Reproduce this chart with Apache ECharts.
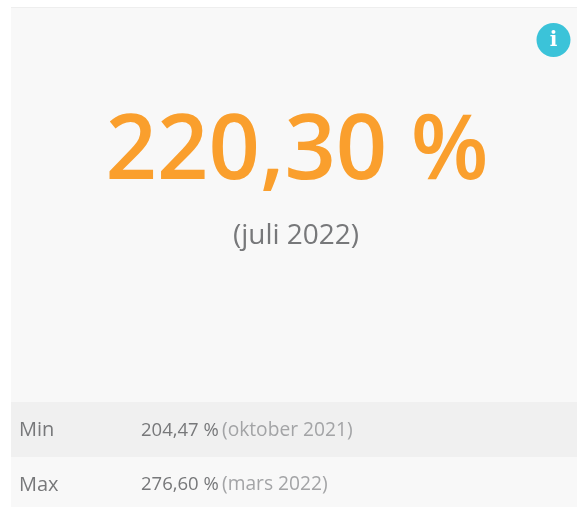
<!DOCTYPE html>
<html lang="sv">
<head>
    <meta charset="UTF-8">
    <title>Nyckeltal</title>
    <script src="https://cdn.jsdelivr.net/npm/echarts@6/dist/echarts.min.js"></script>
    <style>
        html, body { margin: 0; padding: 0; background: #fff; }
        #main { width: 577px; height: 507px; }
    </style>
</head>
<body>
<div id="main"></div>
<script>
    // värden från bilden
    var currentValue = '220,30 %';
    var currentPeriod = '(juli 2022)';
    var rowLabels = ['Min', 'Max'];
    var rowValues = ['204,47 %', '276,60 %'];
    var rowPeriods = ['(oktober 2021)', '(mars 2022)'];

    var font = '"Open Sans", sans-serif';
    var rowTops = [402, 457];
    var rowHeights = [55, 50];
    var rowTextY = [430.5, 485];
    var rowFills = ['#f0f0f0', '#f8f8f8'];

    var elements = [
        // panelens bakgrund
        { type: 'rect', shape: { x: 11, y: 8, width: 566, height: 499 }, style: { fill: '#f8f8f8' } },
        { type: 'rect', shape: { x: 11, y: 7, width: 566, height: 1 }, style: { fill: '#eeeeee' } },
        // info-ikon
        { type: 'circle', shape: { cx: 553.5, cy: 40, r: 17 }, style: { fill: '#3bc3d9' } },
        { type: 'text', style: { x: 553.5, y: 41, text: 'i', fill: '#fff', font: 'bold 20px "DejaVu Serif"', align: 'center', verticalAlign: 'middle' } },
        // huvudvärde
        { type: 'text', style: { x: 297, y: 153, text: currentValue, fill: '#fa9f2d', font: '600 90px ' + font, align: 'center', verticalAlign: 'middle' } },
        { type: 'text', style: { x: 296, y: 236, text: currentPeriod, fill: '#77787a', font: '28px ' + font, align: 'center', verticalAlign: 'middle' } }
    ];

    for (var i = 0; i < rowLabels.length; i++) {
        elements.push({ type: 'rect', shape: { x: 11, y: rowTops[i], width: 566, height: rowHeights[i] }, style: { fill: rowFills[i] } });
        elements.push({ type: 'text', style: { x: 19, y: rowTextY[i], text: rowLabels[i], fill: '#77787a', font: '20px ' + font, verticalAlign: 'middle' } });
        elements.push({ type: 'text', style: { x: 141, y: rowTextY[i], text: rowValues[i], fill: '#77787a', font: '18.5px ' + font, verticalAlign: 'middle' } });
        elements.push({ type: 'text', style: { x: 222, y: rowTextY[i], text: rowPeriods[i], fill: '#a3a4a6', font: '19.2px ' + font, verticalAlign: 'middle' } });
    }

    var chart = echarts.init(document.getElementById('main'));
    chart.setOption({
        animation: false,
        backgroundColor: '#ffffff',
        graphic: { elements: elements }
    });
</script>
</body>
</html>
